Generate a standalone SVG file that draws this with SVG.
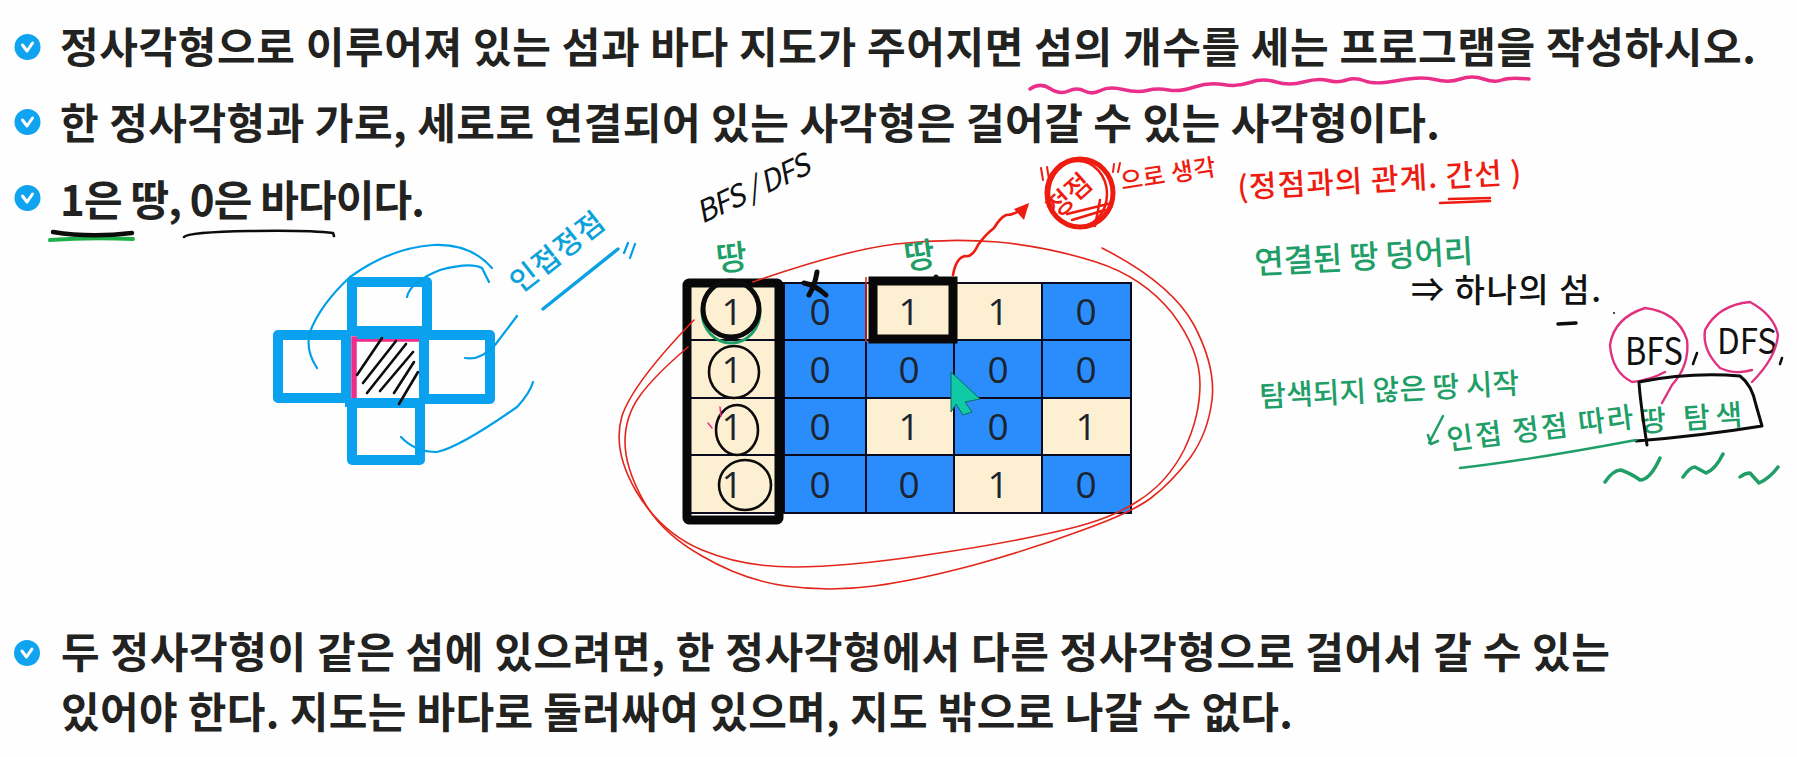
<svg xmlns="http://www.w3.org/2000/svg" width="1797" height="757" viewBox="0 0 1797 757">
<style>
text{font-family:"Noto Sans CJK KR","Noto Sans",sans-serif}
.t{font-size:42px;font-weight:700;fill:#222220}
.d{font-family:"Open Sans","Noto Sans",sans-serif;font-size:37px;fill:#1c2430;text-anchor:middle}
.s{fill:none;stroke-linecap:round;stroke-linejoin:round}
.b{stroke:#009fe8;stroke-width:2.2}
.sq{fill:none;stroke:#0aa2ee;stroke-width:10;stroke-linejoin:round}
.r{stroke:#e3261c;stroke-width:1.6}
.k{stroke:#0c0c0c}
.g{stroke:#1f9e68}
.rt{fill:#ee1c10;font-size:30px;font-weight:500}
.gt{fill:#1f9e68;font-size:32px;font-weight:500}
.kt{fill:#111;font-size:33px;font-weight:500}
.sea{fill:#2b8dfb}
.land{fill:#fdf0d2}
.ln{stroke:#0b0b20;stroke-width:2}
</style>
<defs>
<g id="chk"><circle r="13" fill="#10a4f0"/><path d="M-5 -2L-.5 4L5 -4" fill="none" stroke="#fff" stroke-width="3" stroke-linecap="round" stroke-linejoin="round"/></g>
</defs>
<rect width="1797" height="757" fill="#fefefe"/>

<g id="statements">
<use href="#chk" x="27.5" y="47"/><use href="#chk" x="27.5" y="122"/><use href="#chk" x="27.5" y="198"/><use href="#chk" x="27" y="653"/>
<text class="t" x="60" y="63" textLength="1696">정사각형으로 이루어져 있는 섬과 바다 지도가 주어지면 섬의 개수를 세는 프로그램을 작성하시오.</text>
<text class="t" x="60" y="139" textLength="1380">한 정사각형과 가로, 세로로 연결되어 있는 사각형은 걸어갈 수 있는 사각형이다.</text>
<text class="t" x="60" y="216" textLength="365">1은 땅, 0은 바다이다.</text>
<text class="t" x="61" y="668" textLength="1549">두 정사각형이 같은 섬에 있으려면, 한 정사각형에서 다른 정사각형으로 걸어서 갈 수 있는</text>
<text class="t" x="61" y="728" textLength="1232">있어야 한다. 지도는 바다로 둘러싸여 있으며, 지도 밖으로 나갈 수 없다.</text>
<path class="s" stroke="#ea2f8b" stroke-width="3.5" d="M1030 89Q1040 82 1050 88.5Q1060 95 1068.5 91Q1077 87 1084.5 91Q1092 95 1100.5 90.5Q1109 86 1123 89.5Q1137 93 1147 90.5Q1157 88 1168.5 90Q1180 92 1194.5 87Q1209 82 1223 84.5Q1237 87 1250 82.5Q1263 78 1276 82Q1289 86 1303.5 82Q1318 78 1328 80.5Q1338 83 1346.5 80Q1355 77 1365 81Q1375 85 1398 80.5Q1421 76 1435 79.5Q1449 83 1460.5 79Q1472 75 1483.5 79Q1495 83 1502 80Q1509 77 1529 79"/>
<path class="s" stroke="#20b04a" stroke-width="4" d="M50 240Q90 237 133 239"/>
<path class="s k" stroke-width="4.5" d="M53 232Q90 238 132 233"/>
<path class="s k" stroke-width="2.5" d="M184 237Q188 232 250 231Q310 230 333 233L334 236"/>
</g>

<g id="cross-figure">
<rect class="sq" x="278" y="335" width="68" height="63"/>
<rect class="sq" x="352" y="282" width="75" height="49"/>
<rect class="sq" x="424" y="335" width="66" height="64"/>
<rect class="sq" x="352" y="403" width="68" height="57"/>
<path d="M354 398V339H419" fill="none" stroke="#ef2c8a" stroke-width="5.5"/>
<path d="M357 335H427M423 335V403M345 403H423" fill="none" stroke="#0aa2ee" stroke-width="8"/>
<path class="s k" stroke-width="2.6" d="M357 375L382 338M363 383L396 341M367 393L406 344M380 391L413 352M394 393L414 362M399 404L418 372"/>
<path class="s b" d="M317 368Q305 350 310 332Q320 305 350 277Q390 248 433 245Q470 243 492 268M407 297Q410 282 440 270Q470 262 482 268L489 282M465 358Q480 361 495 345L517 316M401 437Q415 452 437 452Q460 447 517 407Q530 393 533 382"/>
<text transform="translate(520 294) rotate(-38)" fill="#0aa2d8" font-size="29" font-weight="500" textLength="110">인접정점</text>
<path class="s" stroke="#0aa2e4" stroke-width="3.5" d="M543 309L618 249"/>
<path class="s b" d="M624 253L628 243M630 258L635 244"/>
</g>

<g id="grid">
<rect class="land" x="687" y="283" width="97" height="230"/>
<rect class="sea" x="784" y="283" width="347" height="230"/>
<rect class="land" x="866" y="283" width="176" height="57"/>
<rect class="land" x="866" y="398" width="88" height="57"/>
<rect class="land" x="1042" y="398" width="89" height="57"/>
<rect class="land" x="954" y="455" width="88" height="58"/>
<path class="ln" fill="none" d="M687 283H1131V513H687M687 340H1131M687 398H1131M687 455H1131M784 283V513M866 283V513M954 283V513M1042 283V513"/>
<text class="d" x="732" y="325">1</text><text class="d" x="820" y="325">0</text><text class="d" x="909" y="325">1</text><text class="d" x="998" y="325">1</text><text class="d" x="1086" y="325">0</text>
<text class="d" x="732" y="383">1</text><text class="d" x="820" y="383">0</text><text class="d" x="909" y="383">0</text><text class="d" x="998" y="383">0</text><text class="d" x="1086" y="383">0</text>
<text class="d" x="732" y="440">1</text><text class="d" x="820" y="440">0</text><text class="d" x="909" y="440">1</text><text class="d" x="998" y="440">0</text><text class="d" x="1086" y="440">1</text>
<text class="d" x="732" y="498">1</text><text class="d" x="820" y="498">0</text><text class="d" x="909" y="498">0</text><text class="d" x="998" y="498">1</text><text class="d" x="1086" y="498">0</text>
</g>

<g id="sketch-marks">
<rect x="687" y="283" width="92" height="237" rx="2" fill="none" stroke="#080808" stroke-width="9"/>
<rect x="873" y="281" width="80" height="58" fill="none" stroke="#080808" stroke-width="9"/>
<path d="M866 277V342" stroke="#e3261c" stroke-width="1.5" fill="none"/>
<path class="s k" stroke-width="5" d="M817 272Q815 285 809 295M804 283Q815 285 826 295"/>
<circle cx="936" cy="277" r="2.5" fill="#111"/>
<ellipse cx="731" cy="312" rx="29" ry="31" fill="none" stroke="#1f9e68" stroke-width="3"/>
<ellipse cx="731" cy="309" rx="28" ry="28" fill="none" stroke="#0b0b0b" stroke-width="5"/>
<ellipse cx="734" cy="372" rx="25" ry="26" fill="none" stroke="#0b0b0b" stroke-width="2.6"/>
<ellipse cx="737" cy="430" rx="21" ry="25" fill="none" stroke="#0b0b0b" stroke-width="2.6"/>
<ellipse cx="745" cy="485" rx="26" ry="25" fill="none" stroke="#0b0b0b" stroke-width="2.6"/>
<path class="s" stroke="#ea2f8b" stroke-width="1.5" d="M708 423L712 428M720 407L721 416"/>
<path class="s r" d="M753 282Q845 250 896 244Q947 238 998 242Q1049 247 1096 262Q1143 277 1172 313Q1200 350 1200 384Q1200 417 1184 450Q1167 483 1138 501Q1110 520 1059 531Q1008 543 926 555Q845 567 794 567Q743 567 702 550Q661 533 636 491Q612 450 622 416Q633 383 694 320"/>
<path class="s r" d="M1102 248Q1171 283 1194 325Q1216 367 1212 400Q1208 433 1190 458Q1171 483 1151 498Q1131 513 1080 531Q1029 550 974 565Q918 580 874 586Q830 592 786 586Q743 580 702 556Q661 533 643 500Q625 467 625 442Q625 417 639 397Q653 377 688 347"/>
<path class="s" stroke="#ee1c10" stroke-width="2.6" d="M953 275Q956 258 965 256Q972 258 978 245Q985 235 994 228Q1000 218 1006 215Q1015 215 1027 206"/>
<path d="M1029 203L1024 220L1014 209Z" fill="#ee1c10"/>
<path d="M951 372L980 399L965 402L972 412L963 415L956 404L951 412Z" fill="#10c9a5" stroke="#0b6d60" stroke-width="1"/>
<text transform="translate(702 224) rotate(-25)" fill="#111" font-size="30" font-style="italic" textLength="122">BFS / DFS</text>
<text x="716" y="270" class="gt" style="font-size:34px" transform="rotate(-6 732 258)">땅</text>
<text x="904" y="268" class="gt" style="font-size:34px" transform="rotate(-8 920 256)">땅</text>
</g>

<g id="vertex-note">
<ellipse cx="1080" cy="193" rx="33" ry="34" fill="none" stroke="#ee1c10" stroke-width="5"/>
<ellipse cx="1078" cy="194" rx="29" ry="33" fill="none" stroke="#ee1c10" stroke-width="2.5"/>
<path class="s" stroke="#ee1c10" stroke-width="2.5" d="M1067 214L1112 203M1072 220L1105 210M1100 200L1095 226"/>
<text transform="translate(1057 219) rotate(-42)" fill="#ee1c10" font-size="27" font-weight="500">정점</text>
<path class="s" stroke="#ee1c10" stroke-width="2" d="M1041 168L1043 180M1047 167L1049 179M1114 164L1113 172M1120 163L1118 172"/>
<text x="1122" y="190" class="rt" style="font-size:24px" transform="rotate(-9 1122 190)" textLength="96">으로 생각</text>
<text x="1238" y="198" class="rt" transform="rotate(-3 1238 198)" textLength="284">(정점과의 관계. 간선 )</text>
<path class="s" stroke="#ee1c10" stroke-width="2.5" d="M1440 203L1490 201M1449 199L1490 198"/>
</g>

<g id="island-note">
<text x="1255" y="274" class="gt" transform="rotate(-3 1255 274)" textLength="219">연결된 땅 덩어리</text>
<text x="1411" y="302" class="kt" textLength="190">⇒ 하나의 섬.</text>
<path class="s k" stroke-width="3.5" d="M1558 324L1576 323"/>
<circle cx="1614" cy="313" r="1" fill="#111"/>
<text x="1625" y="365" fill="#111" font-size="38" textLength="58" lengthAdjust="spacingAndGlyphs">BFS</text>
<text x="1717" y="354" fill="#111" font-size="36" textLength="60" lengthAdjust="spacingAndGlyphs">DFS</text>
<path class="s k" stroke-width="2.5" d="M1697 353L1693 364M1782 358L1780 364"/>
<path class="s" stroke="#e0317e" stroke-width="2.4" d="M1665 372Q1650 380 1632 382Q1612 372 1610 345Q1614 318 1645 308Q1678 312 1687 340Q1690 365 1672 385L1662 403"/>
<path class="s" stroke="#e0317e" stroke-width="2.4" d="M1752 370Q1735 375 1720 368Q1702 350 1705 330Q1718 305 1750 302Q1774 315 1778 335Q1776 358 1752 382"/>
<text x="1260" y="407" class="gt" style="font-size:29px" transform="rotate(-3 1260 407)" textLength="260">탐색되지 않은 땅 시작</text>
<path class="s g" stroke-width="2.5" d="M1443 416L1429 443M1428 435L1431 444L1438 441"/>
<text x="1448" y="450" class="gt" style="font-size:29px" transform="rotate(-7 1448 450)" textLength="188">인접 정점 따라</text>
<text x="1640" y="432" class="gt" style="font-size:29px" transform="rotate(-4 1640 432)" textLength="103">땅 탐색</text>
<path class="s k" stroke-width="3" d="M1647 445Q1640 400 1639 382Q1690 372 1740 376Q1752 385 1756 405L1762 426Q1700 436 1636 441"/>
<path class="s g" stroke-width="2.4" d="M1460 468Q1530 460 1636 440"/>
<path class="s g" stroke-width="3.5" d="M1605 482Q1613 470 1621 470Q1632 474 1640 480Q1650 480 1660 458M1683 477Q1690 467 1695 467L1706 473Q1715 470 1723 454M1740 477Q1745 473 1750 473L1759 483Q1770 478 1778 467"/>
</g>
</svg>
